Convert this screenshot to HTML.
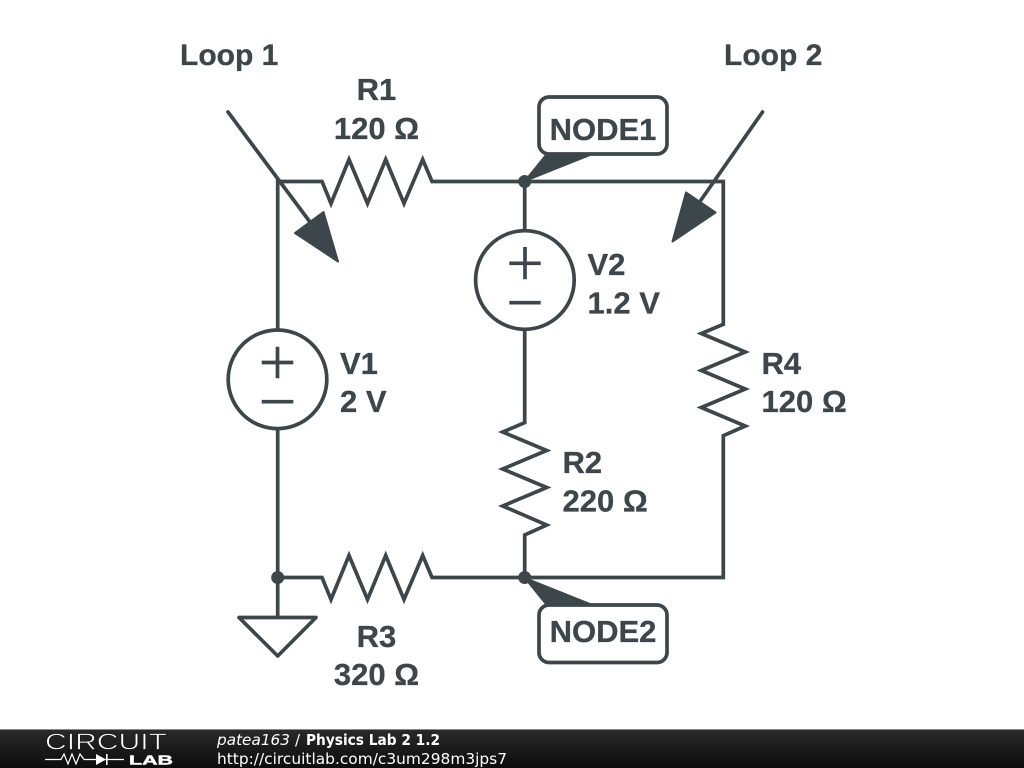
<!DOCTYPE html>
<html>
<head>
<meta charset="utf-8">
<title>Physics Lab 2 1.2</title>
<style>
html,body{margin:0;padding:0;background:#fff;width:1024px;height:768px;overflow:hidden}
svg{display:block}
.w{fill:none;stroke:#3c464b;stroke-width:3.7;stroke-linejoin:miter;stroke-miterlimit:10;stroke-linecap:butt}
.f{fill:#3c464b;stroke:#3c464b;stroke-width:2;stroke-linejoin:round}
.t{font-family:"Liberation Sans",sans-serif;font-weight:700;font-size:31px;fill:#3c464b;stroke:#3c464b;stroke-width:0.3}
.l{font-size:30px}
.b{font-family:"DejaVu Sans",sans-serif;font-size:15px;fill:#fff}
</style>
</head>
<body>
<svg width="1024" height="768" viewBox="0 0 1024 768" xmlns="http://www.w3.org/2000/svg">
<defs>
<linearGradient id="g" x1="0" y1="0" x2="0" y2="1">
<stop offset="0" stop-color="#2a2a2a"/><stop offset="1" stop-color="#0c0c0c"/>
</linearGradient>
</defs>
<rect width="1024" height="768" fill="#fff"/>

<!-- wires -->
<path class="w" d="M277.7 330V181.5H322L331 203.500L349 159.500L367.500 203.500L385.700 159.500L404 203.500L422.700 159.500L432 181.500H723.300V324.300L701.300 333.500L745.300 352L701.300 370.500L745.300 389L701.300 407.500L745.300 426L723.300 435.700V577.500H432L422.700 555.500L404 599.500L385.700 555.500L367.500 599.500L349 555.500L331 599.500L322 577.500H277.700V429"/>
<path class="w" d="M277.7 577.5V617"/>
<path class="w" d="M524.7 181.5V231M524.7 329V422.7L502.700 432L546.700 450.500L502.700 469L546.700 487.500L502.700 506L546.700 525L524.700 535V577.500"/>

<!-- sources -->
<circle class="w" cx="277.5" cy="379.3" r="49.3"/>
<path class="w" d="M261.7 362.5H293.3M277.5 346.7V378.3M261.7 401.7H293.3"/>
<circle class="w" cx="524.9" cy="280" r="49.3"/>
<path class="w" d="M509.3 263.3H540.7M525 247V279.3M509.3 302.7H540.7"/>

<!-- ground -->
<path class="w" d="M239 617.5H316L277.7 656Z" style="stroke-linejoin:round"/>

<!-- junctions -->
<circle cx="277.7" cy="577.5" r="6.5" fill="#3c464b"/>
<circle cx="524.7" cy="181.5" r="6.5" fill="#3c464b"/>
<circle cx="524.7" cy="577.5" r="6.5" fill="#3c464b"/>

<!-- node labels -->
<polygon class="f" points="525,181 546,155 590,155"/>
<rect class="w" x="539" y="97" width="128" height="57" rx="10" style="fill:#fff"/>
<polygon class="f" points="525,578 546,604 590,604"/>
<rect class="w" x="539" y="605" width="128" height="57.5" rx="10" style="fill:#fff"/>

<!-- loop arrows -->
<path class="w" d="M228 112L310 222" style="stroke-linecap:round"/>
<polygon class="f" points="338,261.5 295,233 323.5,212"/>
<path class="w" d="M762.5 112L701 200" style="stroke-linecap:round"/>
<polygon class="f" points="672.5,241.5 686,192.5 715.5,212.5"/>

<!-- text -->
<text class="t l" x="180" y="65">Loop 1</text>
<text class="t l" x="724" y="65">Loop 2</text>
<text class="t" x="376.500" y="100" text-anchor="middle">R1</text>
<text class="t" x="376.500" y="139" text-anchor="middle">120 Ω</text>
<text class="t" x="603" y="140" text-anchor="middle">NODE1</text>
<text class="t" x="603" y="642" text-anchor="middle">NODE2</text>
<text class="t" x="587.500" y="275">V2</text>
<text class="t" x="587.500" y="313.500">1.2 V</text>
<text class="t" x="340" y="374">V1</text>
<text class="t" x="340" y="412">2 V</text>
<text class="t" x="761.500" y="374">R4</text>
<text class="t" x="761.500" y="412">120 Ω</text>
<text class="t" x="562.500" y="473">R2</text>
<text class="t" x="562.500" y="511.500">220 Ω</text>
<text class="t" x="376.500" y="647" text-anchor="middle">R3</text>
<text class="t" x="376.500" y="685" text-anchor="middle">320 Ω</text>

<!-- footer -->
<rect x="0" y="729" width="1024" height="39" fill="url(#g)"/>
<rect x="0" y="729" width="1024" height="1" fill="#8a8a8a"/>
<text x="45" y="749.500" font-family="Liberation Sans, sans-serif" font-size="23" fill="#fff" stroke="#1c1c1c" stroke-width="0.7" textLength="122" lengthAdjust="spacingAndGlyphs">CIRCUIT</text>
<path d="M45 759.500H61L64 754L68 764L72 754L76 764L80 754L84 759.500H124" fill="none" stroke="#fff" stroke-width="1.200"/>
<polygon points="96,754 96,765 106,759.500" fill="#fff"/>
<rect x="106" y="754" width="1.600" height="11" fill="#fff"/>
<text x="129" y="764.500" font-family="Liberation Sans, sans-serif" font-weight="700" font-size="13" fill="#fff" stroke="#fff" stroke-width="0.400" textLength="44" lengthAdjust="spacingAndGlyphs">LAB</text>
<text class="b" x="217" y="745" font-style="italic" textLength="73" lengthAdjust="spacingAndGlyphs">patea163</text>
<text class="b" x="295" y="745">/</text>
<text class="b" x="306" y="745" font-weight="700" textLength="134" lengthAdjust="spacingAndGlyphs">Physics Lab 2 1.2</text>
<text class="b" x="217" y="764" textLength="290" lengthAdjust="spacingAndGlyphs">http://circuitlab.com/c3um298m3jps7</text>
</svg>
</body>
</html>
